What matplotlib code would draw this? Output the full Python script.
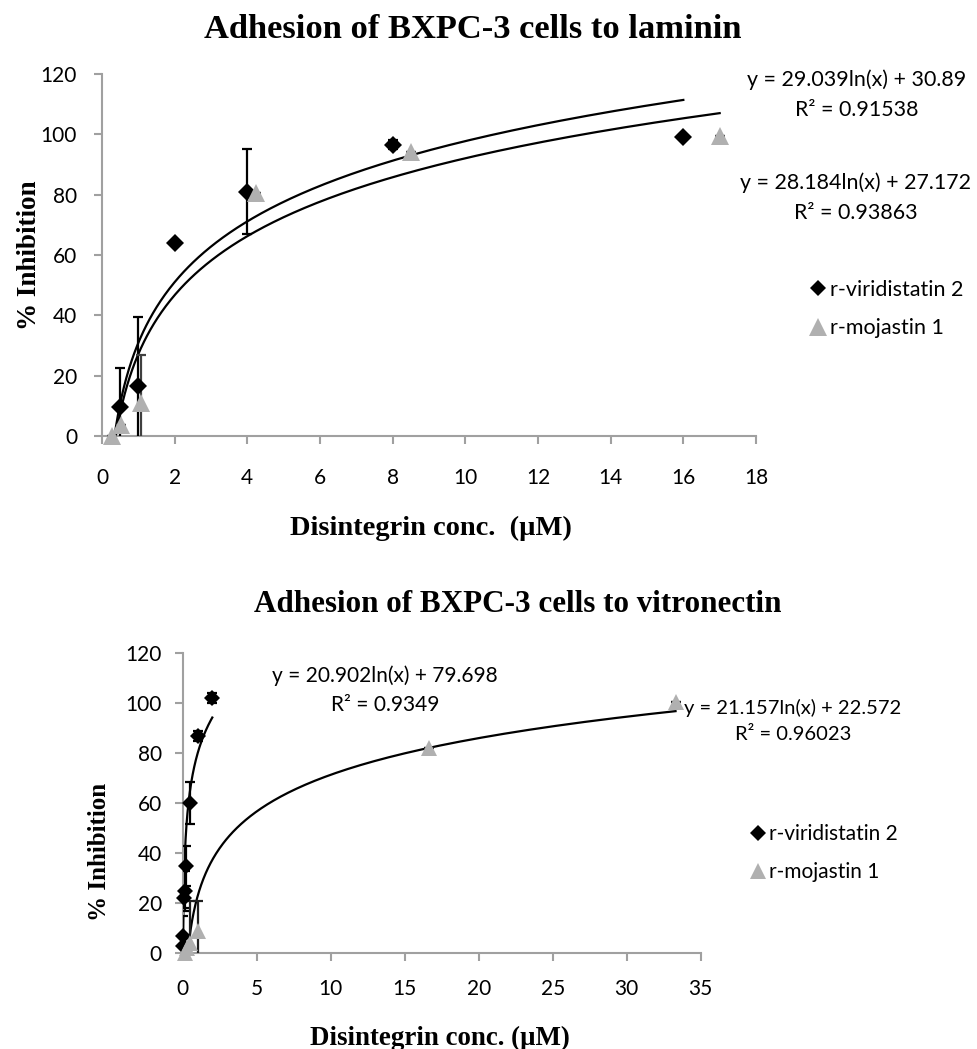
import numpy as np
import matplotlib
matplotlib.use("Agg")
import matplotlib.pyplot as plt
from matplotlib.lines import Line2D

# ---------------- data ----------------
# Top panel: laminin
top_vir_x = [0.5, 1, 2, 4, 8, 16]
top_vir_y = [9.6, 16.5, 64, 81, 96.5, 99]
top_vir_err = [13, 23, 0, 14, 1.5, 0]

top_moj_x = [0.265, 0.53, 1.06, 4.25, 8.5, 17]
top_moj_y = [0, 3.5, 11, 80.5, 94, 99.5]
top_moj_err = [0, 0, 16, 0, 0, 0]

top_vir_fit = (29.039, 30.89)     # slope, intercept of ln fit
top_moj_fit = (28.184, 27.172)
top_vir_fit_range = (0.25, 16)
top_moj_fit_range = (0.265, 17)
top_vir_eq = "y = 29.039ln(x) + 30.89\nR² = 0.91538"
top_moj_eq = "y = 28.184ln(x) + 27.172\nR² = 0.93863"

top_xticks = [0, 2, 4, 6, 8, 10, 12, 14, 16, 18]
top_yticks = [0, 20, 40, 60, 80, 100, 120]

# Bottom panel: vitronectin
bot_vir_x = [0.0156, 0.031, 0.0625, 0.125, 0.25, 0.5, 1, 2]
bot_vir_y = [3, 7, 22, 25, 35, 60, 87, 102]
bot_vir_err = [3, 8, 4, 8, 8, 8.5, 2, 2]

bot_moj_x = [0.13, 0.26, 0.52, 1.04, 16.65, 33.3]
bot_moj_y = [0, 2, 4, 9, 82, 100.5]
bot_moj_err = [0, 0, 17, 12, 0, 0]

bot_vir_fit = (20.902, 79.698)
bot_moj_fit = (21.157, 22.572)
bot_vir_fit_range = (0.0156, 2)
bot_moj_fit_range = (0.13, 33.3)
bot_vir_eq = "y = 20.902ln(x) + 79.698\nR² = 0.9349"
bot_moj_eq = "y = 21.157ln(x) + 22.572\nR² = 0.96023"

bot_xticks = [0, 5, 10, 15, 20, 25, 30, 35]
bot_yticks = [0, 20, 40, 60, 80, 100, 120]

labels = ["r-viridistatin 2", "r-mojastin 1"]

# ---------------- style ----------------
W, H = 977, 1049
SANS = "Lato"
SERIF = "Liberation Serif"
AXCOL = "#A0A0A0"
TRI = "#B0B0B0"

fig = plt.figure(figsize=(W / 100, H / 100), dpi=100)


def fx(px):
    return px / W


def fy(py):
    return 1 - py / H


def style_axes(ax, xt, yt, xlim, ylim, fs, xpad, ypad):
    ax.set_xlim(*xlim)
    ax.set_ylim(*ylim)
    ax.set_xticks(xt)
    ax.set_yticks(yt)
    for s in ["top", "right"]:
        ax.spines[s].set_visible(False)
    for s in ["left", "bottom"]:
        ax.spines[s].set_color(AXCOL)
        ax.spines[s].set_linewidth(1.5)
    ax.tick_params(axis="both", direction="out", length=6, width=1.5,
                   color=AXCOL, labelsize=fs, labelcolor="black")
    ax.tick_params(axis="x", pad=xpad)
    ax.tick_params(axis="y", pad=ypad)
    for lab in ax.get_xticklabels() + ax.get_yticklabels():
        lab.set_fontfamily(SANS)


def fit_curve(ax, coef, rng):
    xs = np.geomspace(rng[0], rng[1], 300)
    ax.plot(xs, coef[0] * np.log(xs) + coef[1], color="black", lw=1.6, zorder=2)


def draw_series(ax, x, y, err, marker, color, ms, ecolor):
    yerr = np.array(err, dtype=float)
    ax.errorbar(x, y, yerr=yerr, fmt="none", ecolor=ecolor, elinewidth=1.6,
                capsize=3.5, capthick=1.6, zorder=3)
    ax.plot(x, y, linestyle="none", marker=marker, color=color, ms=ms,
            markeredgewidth=0, zorder=4, clip_on=False)


# ---------------- top panel ----------------
ax1 = fig.add_axes([fx(102), fy(436), fx(756 - 102), (436 - 74) / H])
style_axes(ax1, top_xticks, top_yticks, (0, 18), (0, 120), 15, 17, 12)
fit_curve(ax1, top_vir_fit, top_vir_fit_range)
fit_curve(ax1, top_moj_fit, top_moj_fit_range)
draw_series(ax1, top_vir_x, top_vir_y, top_vir_err, "D", "black", 9.5, "black")
draw_series(ax1, top_moj_x, top_moj_y, top_moj_err, "^", TRI, 13, "#404040")

fig.text(fx(473), fy(30), "Adhesion of BXPC-3 cells to laminin", ha="center",
         va="center", family=SERIF, weight="bold", size=24.8)
fig.text(fx(431), fy(528), "Disintegrin conc.  (µM)", ha="center", va="center",
         family=SERIF, weight="bold", size=20.5)
fig.text(fx(30), fy(255), "% Inhibition", ha="center", va="center", rotation=90,
         family=SERIF, weight="bold", size=19.5)
fig.text(fx(857), fy(95), top_vir_eq, ha="center", va="center", family=SANS,
         size=15.4, linespacing=1.65)
fig.text(fx(856), fy(198), top_moj_eq, ha="center", va="center", family=SANS,
         size=15.4, linespacing=1.65)

h1 = [Line2D([], [], ls="none", marker="D", color="black", ms=8.5, mew=0),
      Line2D([], [], ls="none", marker="^", color=TRI, ms=13, mew=0)]
fig.legend(h1, labels, loc="center left", bbox_to_anchor=(fx(800), fy(309)),
           frameon=False, handlelength=0.7, handletextpad=0.2,
           labelspacing=0.85, prop={"family": SANS, "size": 15.5}, borderpad=0)

# ---------------- bottom panel ----------------
ax2 = fig.add_axes([fx(182.7), fy(953), fx(518), 300 / H])
style_axes(ax2, bot_xticks, bot_yticks, (0, 35), (0, 120), 15, 13, 9)
fit_curve(ax2, bot_vir_fit, bot_vir_fit_range)
fit_curve(ax2, bot_moj_fit, bot_moj_fit_range)
draw_series(ax2, bot_vir_x, bot_vir_y, bot_vir_err, "D", "black", 8, "black")
draw_series(ax2, bot_moj_x, bot_moj_y, bot_moj_err, "^", TRI, 12, "#202020")

fig.text(fx(518), fy(605), "Adhesion of BXPC-3 cells to vitronectin", ha="center",
         va="center", family=SERIF, weight="bold", size=22.4)
fig.text(fx(440), fy(1038), "Disintegrin conc. (µM)", ha="center", va="center",
         family=SERIF, weight="bold", size=19.4)
fig.text(fx(100), fy(852), "% Inhibition", ha="center", va="center", rotation=90,
         family=SERIF, weight="bold", size=18)
fig.text(fx(385), fy(690), bot_vir_eq, ha="center", va="center", family=SANS,
         size=15, linespacing=1.55)
fig.text(fx(793), fy(721), bot_moj_eq, ha="center", va="center", family=SANS,
         size=14.5, linespacing=1.6)

h2 = [Line2D([], [], ls="none", marker="D", color="black", ms=8, mew=0),
      Line2D([], [], ls="none", marker="^", color=TRI, ms=12, mew=0)]
fig.legend(h2, labels, loc="center left", bbox_to_anchor=(fx(740), fy(853)),
           frameon=False, handlelength=0.7, handletextpad=0.2,
           labelspacing=0.85, prop={"family": SANS, "size": 15}, borderpad=0)

fig.savefig("out.png", dpi=100)
